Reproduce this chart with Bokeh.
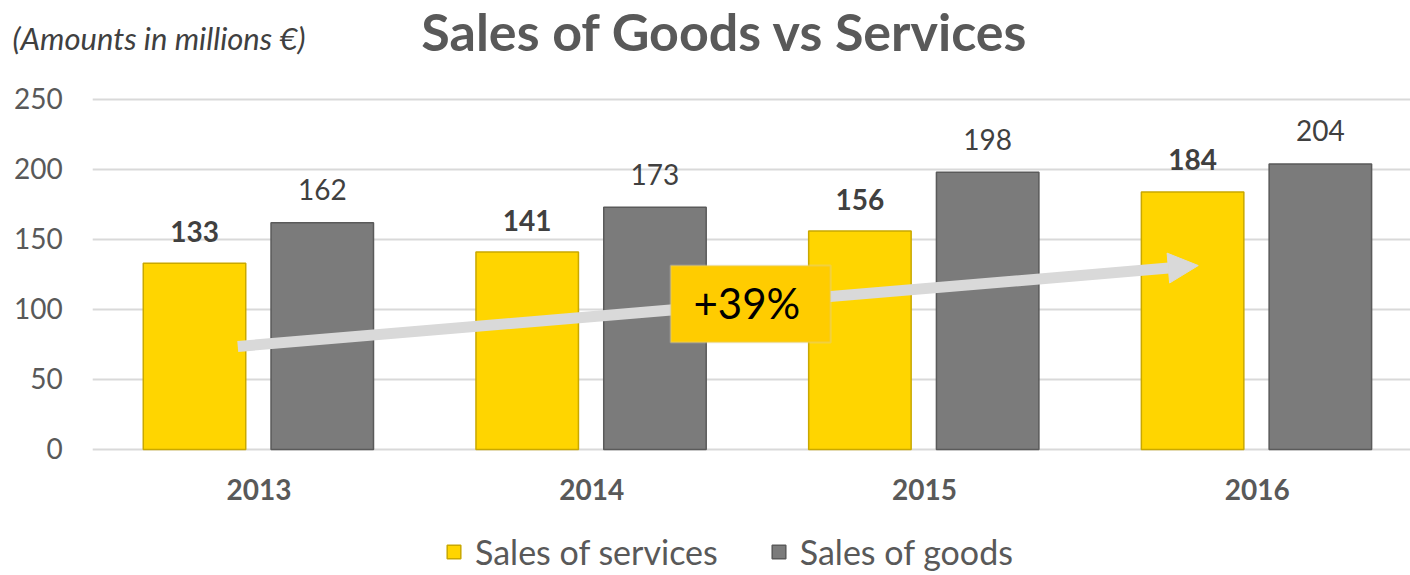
from bokeh.plotting import figure
from bokeh.models import (Range1d, Label, Legend, LegendItem,
                          ColumnDataSource, Arrow, NormalHead, BoxAnnotation)
from bokeh.embed import file_html
from bokeh.resources import INLINE
from bokeh.core.properties import value

# ---- data ----
years = ["2013", "2014", "2015", "2016"]
services = [133, 141, 156, 184]
goods = [162, 173, 198, 204]
y_ticks = [0, 50, 100, 150, 200, 250]
series_names = ["Sales of services", "Sales of goods"]
title_text = "Sales of Goods vs Services"
subtitle_text = "(Amounts in millions \u20ac)"
growth_text = "+39%"

FONT = "Lato"
W, H = 1410, 575
PX_PER_CAT = 332.7
PX_PER_UNIT = 1.4
LEFT_PX = 92.2     # x position (px) of category-axis start
ZERO_PX = 449      # y position (px) of value 0


def px_x(px):
    return (px - LEFT_PX) / PX_PER_CAT


def px_y(py):
    return (ZERO_PX - py) / PX_PER_UNIT


x_center = [i + 0.5 for i in range(len(years))]
src = ColumnDataSource(dict(
    xc=x_center, yr=years, y0=[0] * len(years),
    xs=[c - 0.194 for c in x_center],
    xg=[c + 0.19 for c in x_center],
    services=services, goods=goods,
    sl=[str(v) for v in services], gl=[str(v) for v in goods],
))
x_end = px_x(W)

p = figure(width=W, height=H, output_backend="svg", toolbar_location=None,
           x_range=Range1d(px_x(0), x_end),
           y_range=Range1d(px_y(H), px_y(0)),
           min_border=0, outline_line_color=None)
p.axis.visible = False
p.grid.grid_line_color = None

# horizontal gridlines and value labels
p.segment(x0=[0] * len(y_ticks), x1=[x_end] * len(y_ticks), y0=y_ticks,
          y1=y_ticks, line_color="#d9d9d9", line_width=2)
p.text(x=[0] * len(y_ticks), y=y_ticks, text=[str(t) for t in y_ticks],
       x_offset=-30, y_offset=-1, text_align="right", text_baseline="middle",
       text_font=value(FONT), text_font_size="28px", text_color="#595959")

# category labels
p.text(x="xc", y="y0", text="yr", source=src, y_offset=40,
       text_align="center", text_baseline="alphabetic",
       text_font=value(FONT), text_font_style="bold",
       text_font_size="28px", text_color="#595959")

r1 = p.vbar(x="xs", top="services", width=0.308, source=src,
            fill_color="#FFD500", line_color="#C9A800", line_width=1.5)
r2 = p.vbar(x="xg", top="goods", width=0.308, source=src,
            fill_color="#7b7b7b", line_color="#5a5a5a", line_width=1.5)

p.text(x="xs", y="services", text="sl", source=src, text_font=value(FONT),
       text_font_style="bold", text_font_size="28px", text_color="#404040",
       text_align="center", text_baseline="alphabetic", y_offset=-32)
p.text(x="xg", y="goods", text="gl", source=src, text_font=value(FONT),
       text_font_size="28px", text_color="#404040",
       text_align="center", text_baseline="alphabetic", y_offset=-33)

# growth arrow and label
p.add_layout(Arrow(x_start=0.436, y_start=73.6, x_end=3.323, y_end=131.4,
                   line_color="#d9d9d9", line_width=11,
                   end=NormalHead(size=30, fill_color="#d9d9d9",
                                  line_color="#d9d9d9")))
p.add_layout(BoxAnnotation(left=1.737, right=2.218, bottom=76.4, top=131.4,
                           fill_color="#FFCC00", fill_alpha=1,
                           line_color="#d0d0d0", line_width=2))
p.add_layout(Label(x=1.966, y=104.5, text=growth_text, text_font=FONT,
                   text_font_size="42px", text_color="#000000",
                   text_align="center", text_baseline="middle"))

# titles
p.add_layout(Label(x=px_x(724.5), y=px_y(30), text=title_text,
                   text_font=FONT, text_font_style="bold",
                   text_font_size="52px", text_color="#595959",
                   text_align="center", text_baseline="middle"))
p.add_layout(Label(x=px_x(12), y=px_y(37), text=subtitle_text,
                   text_font=FONT, text_font_style="italic",
                   text_font_size="31px", text_color="#404040",
                   text_align="left", text_baseline="middle"))

legend = Legend(items=[LegendItem(label=series_names[0], renderers=[r1]),
                       LegendItem(label=series_names[1], renderers=[r2])],
                orientation="horizontal", location=(445, 3),
                border_line_color=None, background_fill_alpha=0,
                label_text_font=FONT, label_text_font_size="34px",
                label_text_color="#595959", glyph_width=17, glyph_height=17,
                spacing=52, label_standoff=13, padding=0, margin=0)
p.add_layout(legend)

open("out.html", "w").write(file_html(p, INLINE))
